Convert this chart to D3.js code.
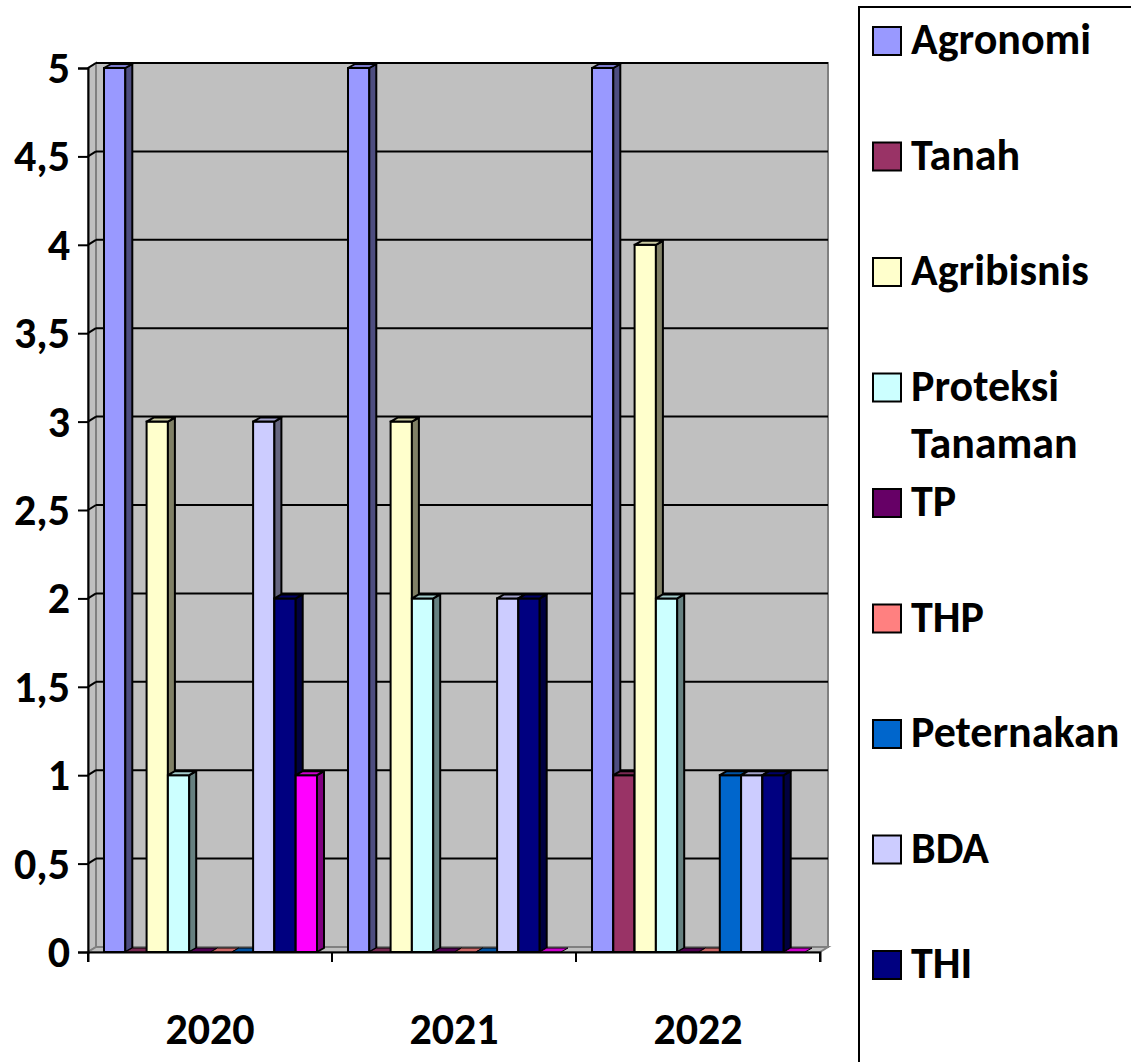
<!DOCTYPE html>
<html>
<head>
<meta charset="utf-8">
<script src="https://cdn.jsdelivr.net/npm/d3@7"></script>
<style>
html,body{margin:0;padding:0;background:#fff;overflow:hidden;}
svg{display:block;}
text{font-family:Carlito, Lato, "Open Sans", sans-serif;font-weight:bold;fill:#000;}
</style>
</head>
<body>
<svg id="chart" width="1131" height="1062"></svg>
<script>
// ---- data ----
const categories = ["2020", "2021", "2022"];
const seriesNames = ["Agronomi", "Tanah", "Agribisnis", "Proteksi Tanaman", "TP", "THP", "Peternakan", "BDA", "THI", "Kehutanan"];
const seriesColors = ["#9999FF", "#993366", "#FFFFCC", "#CCFFFF", "#660066", "#FF8080", "#0066CC", "#CCCCFF", "#000080", "#FF00FF"];
const values2020 = [5, 0, 3, 1, 0, 0, 0, 3, 2, 1];
const values2021 = [5, 0, 3, 2, 0, 0, 0, 2, 2, 0];
const values2022 = [5, 1, 4, 2, 0, 0, 1, 1, 1, 0];
const yTicks = [0, 0.5, 1, 1.5, 2, 2.5, 3, 3.5, 4, 4.5, 5];

const valuesByCat = [values2020, values2021, values2022];

const W = 1131, H = 1062;
const svg = d3.select("#chart");

const x0 = d3.scaleBand().domain(categories).range([88, 820]).paddingInner(0).paddingOuter(0);
const x1 = d3.scaleBand().domain(seriesNames).range([16, x0.bandwidth() - 15]).padding(0);
const y = d3.scaleLinear().domain([0, 5]).range([952, 68]);

const wdx = 8, wdy = -5;   // wall depth
const bdx = 7, bdy = -4;   // bar depth
const FS = 44;

const fmt = d => String(d).replace(".", ",");

// ---- walls ----
const xL = 88, xR = 820, yT = y(5), yB = y(0);
svg.append("rect").attr("x", xL + wdx).attr("y", yT + wdy)
  .attr("width", xR - xL).attr("height", yB - yT)
  .attr("fill", "#C0C0C0").attr("stroke", "#808080").attr("stroke-width", 2);
svg.append("polygon")
  .attr("points", [[xL, yT], [xL + wdx, yT + wdy], [xL + wdx, yB + wdy], [xL, yB]].map(p => p.join(",")).join(" "))
  .attr("fill", "#C0C0C0").attr("stroke", "#808080").attr("stroke-width", 2);
svg.append("polygon")
  .attr("points", [[xL, yB], [xL + wdx, yB + wdy], [xR + wdx, yB + wdy], [xR, yB]].map(p => p.join(",")).join(" "))
  .attr("fill", "#C0C0C0").attr("stroke", "#808080").attr("stroke-width", 2);

// gridlines
const grid = svg.append("g");
yTicks.filter(t => t > 0).forEach(t => {
  grid.append("line").attr("x1", xL + wdx).attr("x2", xR + wdx)
    .attr("y1", y(t) + wdy).attr("y2", y(t) + wdy)
    .attr("stroke", "#000").attr("stroke-width", 2);
  grid.append("line").attr("x1", xL).attr("x2", xL + wdx)
    .attr("y1", y(t)).attr("y2", y(t) + wdy)
    .attr("stroke", "#000").attr("stroke-width", 2);
});

// ---- bars ----
function shade(c, k) {
  const col = d3.rgb(c);
  return d3.rgb(col.r * k, col.g * k, col.b * k).formatHex();
}
const barsG = svg.append("g");
categories.forEach((cat, ci) => {
  seriesNames.forEach((s, si) => {
    const v = valuesByCat[ci][si];
    const bx = x0(cat) + x1(s);
    const bw = x1.bandwidth();
    const top = y(v), bot = y(0);
    const col = seriesColors[si];
    const g = barsG.append("g");
    if (v > 0) {
      g.append("rect").attr("x", bx).attr("y", top).attr("width", bw).attr("height", bot - top)
        .attr("fill", col).attr("stroke", "#000").attr("stroke-width", 2);
      g.append("polygon")
        .attr("points", [[bx + bw, top], [bx + bw + bdx, top + bdy], [bx + bw + bdx, bot + bdy], [bx + bw, bot]].map(p => p.join(",")).join(" "))
        .attr("fill", shade(col, 0.5)).attr("stroke", "#000").attr("stroke-width", 2).attr("stroke-linejoin", "round");
    }
    g.append("polygon")
      .attr("points", [[bx, top], [bx + bdx, top + bdy], [bx + bw + bdx, top + bdy], [bx + bw, top]].map(p => p.join(",")).join(" "))
      .attr("fill", shade(col, 0.8)).attr("stroke", "#000").attr("stroke-width", v > 0 ? 2 : 1).attr("stroke-linejoin", "round");
  });
});

// ---- axes ----
const yAxis = d3.axisLeft(y).tickValues(yTicks).tickFormat(fmt).tickSize(10).tickPadding(8);
const yG = svg.append("g").attr("transform", `translate(${xL},0)`).call(yAxis);
yG.select(".domain").attr("stroke", "#000").attr("stroke-width", 2);
yG.selectAll(".tick line").attr("stroke", "#000").attr("stroke-width", 2);
yG.selectAll(".tick text").attr("font-size", FS).attr("font-family", null).attr("dy", "0.33em");

const xAxis = d3.axisBottom(x0).tickSize(10).tickSizeOuter(10).tickPadding(0);
const xG = svg.append("g").attr("transform", `translate(0,${yB})`).call(xAxis);
xG.select(".domain").attr("stroke", "#000").attr("stroke-width", 2);
xG.selectAll(".tick line").remove();
xG.selectAll(".tick text").attr("font-size", FS).attr("font-family", null).attr("y", 92).attr("dy", 0);
const bounds = [xL, ...categories.map(c => x0(c) + x0.bandwidth())];
bounds.forEach(bx => {
  xG.append("line").attr("x1", bx).attr("x2", bx).attr("y1", 0).attr("y2", 10)
    .attr("stroke", "#000").attr("stroke-width", 2);
});

// ---- legend (entries beyond the visible frame are cut off, as in the reference) ----
const lg = svg.append("g");
lg.append("rect").attr("x", 859).attr("y", 7).attr("width", 400).attr("height", 1200)
  .attr("fill", "#fff").attr("stroke", "#000").attr("stroke-width", 2);
const legendStep = 115.5;
seriesNames.forEach((s, i) => {
  const cy = 41 + i * legendStep;
  if (cy + 20 > H) return;
  lg.append("rect").attr("x", 873).attr("y", cy - 14).attr("width", 28).attr("height", 28)
    .attr("fill", seriesColors[i]).attr("stroke", "#000").attr("stroke-width", 2);
  const words = s === "Proteksi Tanaman" ? ["Proteksi", "Tanaman"] : [s];
  words.forEach((w, wi) => {
    lg.append("text").attr("x", 911).attr("y", cy + 13 + wi * 57).attr("font-size", FS).text(w);
  });
});
</script>
</body>
</html>
